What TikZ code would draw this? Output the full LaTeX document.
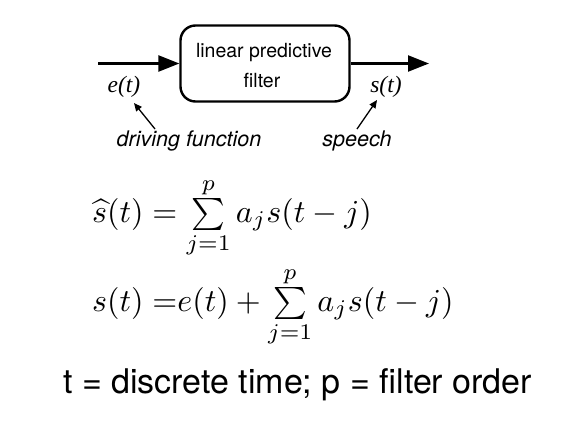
\documentclass[tikz,border=0pt]{standalone}
\usepackage{amsmath}
\usepackage{graphicx}
\usepackage{fontspec}
\setmainfont{TeX Gyre Heros}
\newfontfamily\timesfont{Liberation Serif}
\usetikzlibrary{arrows.meta}
\newcommand{\eqscale}[1]{\scalebox{3.2}{#1}}
\begin{document}
\begin{tikzpicture}[x=1pt,y=-1pt,
  thickline/.style={line width=2.4pt},
  bigarrow/.style={thickline,-{Triangle[length=21pt,width=16pt]}},
  smallarrow/.style={line width=1.3pt,-{Triangle[length=8pt,width=7pt]}},
  boxtext/.style={font=\fontsize{19.5}{22}\selectfont,inner sep=0pt,anchor=base},
  sigtext/.style={font=\fontsize{23.5}{26}\selectfont\timesfont\itshape,inner sep=0pt,anchor=base},
  labtext/.style={font=\fontsize{21.5}{24}\selectfont\itshape,inner sep=0pt,anchor=base},
  eqtext/.style={inner sep=0pt,anchor=base west},
]
\useasboundingbox (0,0) rectangle (568,424);
\node[draw,thickline,rounded corners=15pt,minimum width=169pt,minimum height=76pt,inner sep=0pt] (box) at (265,63.5) {};
\node[boxtext] (l1) at (264,57) {linear predictive};
\node[boxtext] (l2) at (262,87) {filter};
\coordinate (in) at (98,63.5);
\coordinate (out) at (429,63.5);
\draw[bigarrow] (in) -- (box.west);
\draw[bigarrow] (box.east) -- (out);
\node[sigtext] (e) at (124,92) {e(t)};
\node[sigtext] (s) at (386,92) {s(t)};
\node[labtext] (df) at (189,146) {driving function};
\node[labtext] (sp) at (357,146) {speech};
\coordinate (dft) at (155,129);
\coordinate (dfh) at (134,103);
\coordinate (spt) at (357,129);
\coordinate (sph) at (377,100);
\draw[smallarrow] (dft) -- (dfh);
\draw[smallarrow] (spt) -- (sph);
\node[eqtext] (eq1) at (92,222) {\eqscale{$\widehat{s}(t) = \sum\limits_{j=1}^{p} a_j s(t-j)$}};
\node[eqtext] (eq2) at (92,311) {\eqscale{$s(t)\;{=}e(t) + \sum\limits_{j=1}^{p} a_j s(t-j)$}};
\node[font=\fontsize{34}{38}\selectfont,inner sep=0pt,anchor=base west] (note) at (63,393) {t = discrete time; p = filter order};
\end{tikzpicture}
\end{document}
